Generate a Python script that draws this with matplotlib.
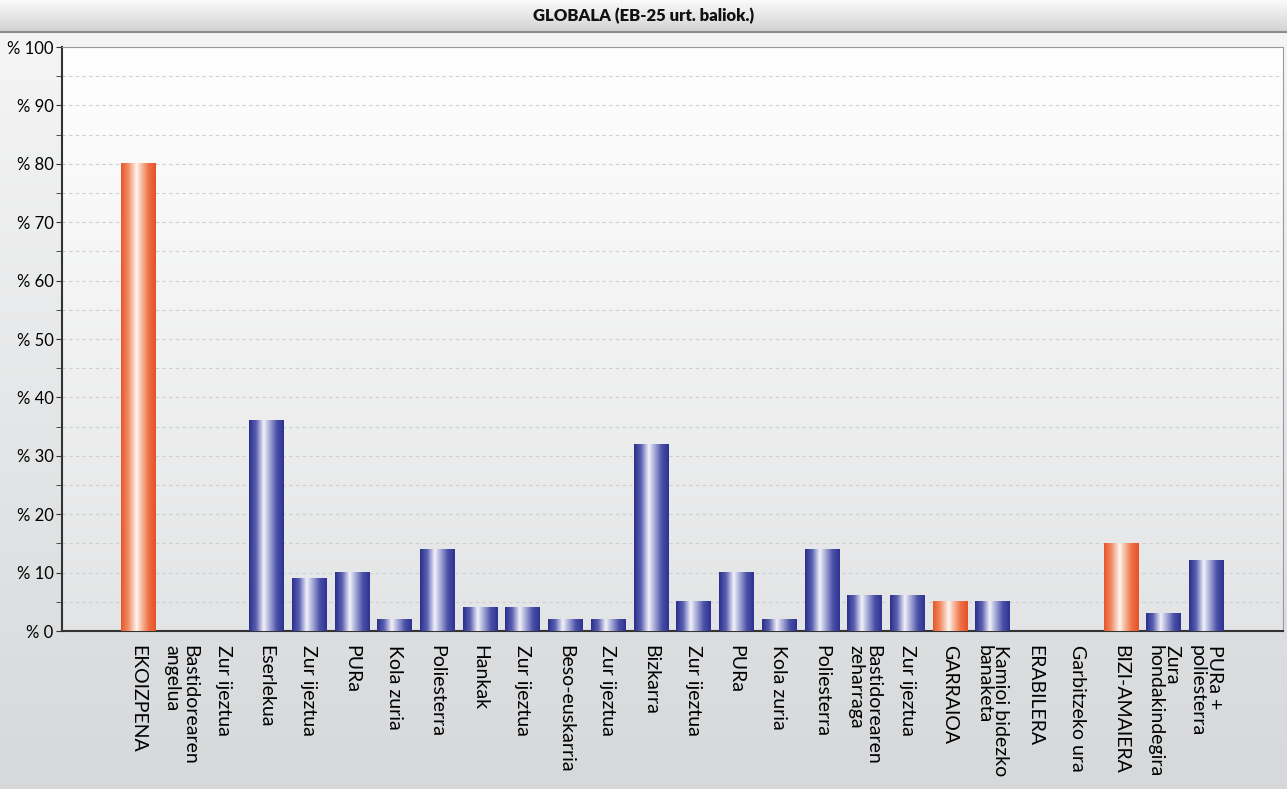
import numpy as np
import matplotlib.pyplot as plt
from matplotlib.colors import LinearSegmentedColormap

plt.rcParams['font.family'] = ['Lato', 'DejaVu Sans']

labels = ['EKOIZPENA', 'Bastidorearen\nangelua', 'Zur ijeztua', 'Eserlekua',
          'Zur ijeztua', 'PURa', 'Kola zuria', 'Poliesterra', 'Hankak',
          'Zur ijeztua', 'Beso-euskarria', 'Zur ijeztua', 'Bizkarra',
          'Zur ijeztua', 'PURa', 'Kola zuria', 'Poliesterra',
          'Bastidorearen\nzeharraga', 'Zur ijeztua', 'GARRAIOA',
          'Kamioi bidezko\nbanaketa', 'ERABILERA', 'Garbitzeko ura',
          'BIZI-AMAIERA', 'Zura\nhondakindegira', 'PURa +\npoliesterra']
values = [80, 0, 0, 36, 9, 10, 2, 14, 4, 4, 2, 2, 32, 5, 10, 2, 14, 6, 6,
          5, 5, 0, 0, 15, 3, 12]
stage = [1, 0, 0, 0, 0, 0, 0, 0, 0, 0, 0, 0, 0, 0, 0, 0, 0, 0, 0,
         1, 0, 1, 0, 1, 0, 0]
yticks = list(range(0, 101, 10))

blue_cm = LinearSegmentedColormap.from_list(
    'b', [(0, '#2a2f8c'), (0.2, '#5a60b0'), (0.42, '#f2f2fa'),
          (0.55, '#b9bce0'), (0.8, '#4a50a8'), (1, '#2e3290')])
orng_cm = LinearSegmentedColormap.from_list(
    'o', [(0, '#e8562a'), (0.2, '#f08a62'), (0.45, '#fff6f0'),
          (0.58, '#f7c0a5'), (0.8, '#ee6e42'), (1, '#e5512a')])

fig = plt.figure(figsize=(12.87, 7.89), dpi=100)

# figure background
bg = fig.add_axes([0, 0, 1, 1], zorder=0)
grad = np.linspace(0, 1, 256).reshape(-1, 1)
bg_cm = LinearSegmentedColormap.from_list('bg', ['#f6f6f6', '#d6d8da'])
bg.imshow(grad, cmap=bg_cm, extent=[0, 1, 0, 1], aspect='auto')
band_cm = LinearSegmentedColormap.from_list('band', ['#fbfbfb', '#d2d2d2'])
bg.imshow(grad, cmap=band_cm, extent=[0, 1, 1 - 32 / 789, 1], aspect='auto')
bg.axhline(1 - 32 / 789, color='#8c8c8c', lw=1.5)
bg.set_xlim(0, 1)
bg.set_ylim(0, 1)
bg.axis('off')
fig.text(0.5, 1 - 16 / 789, 'GLOBALA (EB-25 urt. baliok.)', ha='center',
         va='center', fontsize=12, fontweight='heavy', color='#111111')

ax = fig.add_axes([62 / 1287, 158 / 789, 1221 / 1287, 584 / 789], zorder=1)
pa_cm = LinearSegmentedColormap.from_list('pa', ['#ffffff', '#e3e4e5'])
ax.imshow(grad, cmap=pa_cm, extent=[0, 1, 0, 1], aspect='auto',
          transform=ax.transAxes, zorder=0)

x = np.arange(len(labels))
bars = ax.bar(x, values, width=0.8, color='none', zorder=3)
hgrad = np.linspace(0, 1, 128).reshape(1, -1)
for b, s in zip(bars, stage):
    if b.get_height() <= 0:
        continue
    x0 = b.get_x()
    ax.imshow(hgrad, cmap=orng_cm if s else blue_cm,
              extent=[x0, x0 + b.get_width(), 0, b.get_height()],
              aspect='auto', zorder=3)

ax.set_xlim(-1.78, len(labels) - 1 + 1.8)
ax.set_ylim(0, 100)
ax.set_yticks(yticks)
ax.set_yticklabels(['% ' + str(v) for v in yticks], fontsize=12)
ax.set_yticks(range(5, 100, 10), minor=True)
ax.set_xticks(x)
ax.set_xticklabels(labels, rotation=270, fontsize=14, va='center',
                   ha='left', rotation_mode='anchor', multialignment='left',
                   linespacing=1.0)
ax.tick_params(axis='x', length=0, pad=10)
ax.tick_params(axis='y', which='both', length=4, color='#333333', pad=2)
ax.grid(axis='y', which='both', linestyle=(0, (3, 3)), color='#cfcfcf',
        lw=0.8, zorder=1)
for s in ['top', 'right']:
    ax.spines[s].set_color('#9a9a9a')
for s in ['left', 'bottom']:
    ax.spines[s].set_color('#333333')
    ax.spines[s].set_linewidth(1.5)

fig.savefig('out.png', dpi=100)
